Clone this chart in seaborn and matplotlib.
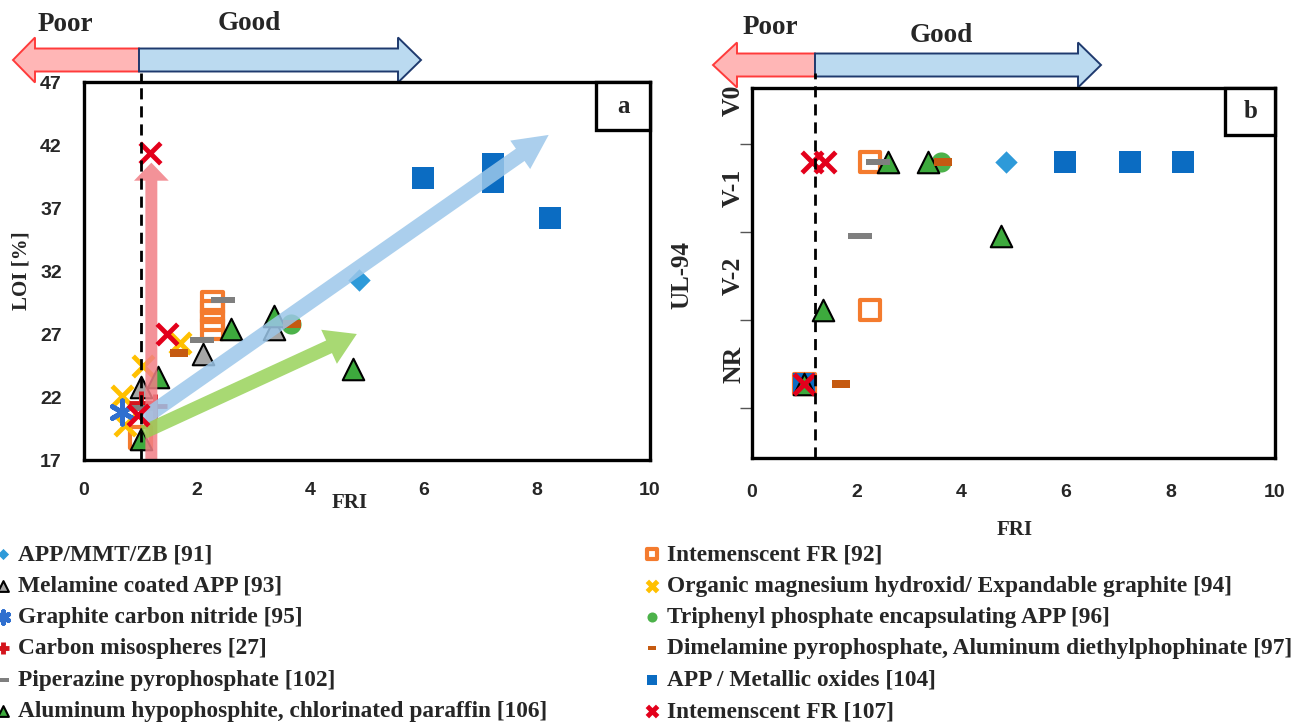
import matplotlib
matplotlib.use("Agg")
import matplotlib.pyplot as plt
from matplotlib.patches import Polygon, Rectangle
import numpy as np
import pandas as pd
import seaborn as sns

sns.set_theme(style="white")
SERIF = ["Liberation Serif", "DejaVu Serif"]
NARROW = ["Liberation Sans Narrow", "Liberation Sans", "DejaVu Sans"]
plt.rcParams["font.family"] = SERIF
plt.rcParams["font.weight"] = "bold"

# ---------------- data: panel (a) FRI vs LOI ----------------
app_mmt_fri = [4.86]
app_mmt_loi = [31.3]
ifr92_fri = [2.27, 2.27, 2.27, 2.27, 1.0]
ifr92_loi = [29.5, 28.8, 28.1, 27.4, 18.8]
melamine_fri = [1.0, 2.11, 3.35]
melamine_loi = [22.8, 25.4, 27.4]
mgoh_eg_fri = [1.05, 1.70, 0.68, 0.72]
mgoh_eg_loi = [24.5, 26.3, 22.1, 19.8]
gcn_fri = [0.68]
gcn_loi = [20.8]
tpp_fri = [3.65]
tpp_loi = [27.8]
carbon_ms_fri = [1.0, 1.25]
carbon_ms_loi = [21.5, 21.3]
dmpp_fri = [1.68, 3.67]
dmpp_loi = [25.5, 27.8]
pip_fri = [2.46, 2.09, 1.0]
pip_loi = [29.7, 26.5, 21.1]
metal_ox_fri = [5.99, 7.23, 7.23, 8.24]
metal_ox_loi = [39.4, 40.5, 39.1, 36.2]
alhp_fri = [2.59, 3.35, 4.75, 1.31, 1.0]
alhp_loi = [27.4, 28.4, 24.2, 23.6, 18.7]
ifr107_fri = [1.17, 1.47, 0.96]
ifr107_loi = [41.4, 27.0, 20.6]

# ---------------- data: panel (b) FRI vs UL-94 ----------------
ul_rank = {"NR": 1, "V-2": 2, "V-1": 3, "V0": 4}
app_mmt_b_fri = [4.86]
app_mmt_b_ul = ["V0"]
ifr92_b_fri = [2.26, 2.26, 1.0]
ifr92_b_ul = ["V0", "V-2", "NR"]
tpp_b_fri = [3.62]
tpp_b_ul = ["V0"]
dmpp_b_fri = [3.65, 1.70]
dmpp_b_ul = ["V0", "NR"]
pip_b_fri = [2.40, 2.07]
pip_b_ul = ["V0", "V-1"]
metal_ox_b_fri = [5.98, 7.23, 8.24, 1.0]
metal_ox_b_ul = ["V0", "V0", "V0", "NR"]
alhp_b_fri = [2.60, 3.36, 4.76, 1.35, 1.0]
alhp_b_ul = ["V0", "V0", "V-1", "V-2", "NR"]
ifr107_b_fri = [1.15, 1.40, 1.0]
ifr107_b_ul = ["V0", "V0", "NR"]

ul_tick_pos = [0.68, 1.86, 3.05, 4.24]
ul_label_pos = [1.27, 2.46, 3.65, 4.84]
ul_labels = ["NR", "V-2", "V-1", "V0"]

# marker shapes
dash_long = [(-1, -0.28), (1, -0.28), (1, 0.28), (-1, 0.28)]
dash_short = [(-1, -0.42), (1, -0.42), (1, 0.42), (-1, 0.42)]

styles = {
    "APP/MMT/ZB [91]": dict(marker="D", s=130, color="#2E9AD9", linewidth=0),
    "Intemenscent FR [92]": dict(marker="s", s=220, facecolor="none", edgecolor="#F47B2E", linewidth=3),
    "Melamine coated APP [93]": dict(marker="^", s=240, color="#A6A6A6", edgecolor="black", linewidth=1.5),
    "Organic magnesium hydroxid/ Expandable graphite [94]": dict(marker="x", s=220, color="#FFC000", linewidth=3.5),
    "Graphite carbon nitride [95]": dict(marker=(6, 2, 0), s=280, color="#2F6FCF", linewidth=3.5),
    "Triphenyl phosphate encapsulating APP [96]": dict(marker="o", s=210, color="#4CB24A", linewidth=0),
    "Carbon misospheres [27]": dict(marker="+", s=300, color="#D4141C", linewidth=3.5),
    "Dimelamine pyrophosphate, Aluminum diethylphophinate [97]": dict(marker=dash_short, s=150, color="#C55A11", linewidth=0),
    "Piperazine pyrophosphate [102]": dict(marker=dash_long, s=310, color="#7F7F7F", linewidth=0),
    "APP / Metallic oxides [104]": dict(marker="s", s=250, color="#0B6CC2", linewidth=0),
    "Aluminum hypophosphite, chlorinated paraffin [106]": dict(marker="^", s=240, color="#3DAA3D", edgecolor="black", linewidth=1.5),
    "Intemenscent FR [107]": dict(marker="x", s=220, color="#E3001B", linewidth=3.5),
}

panel_a = {
    "Intemenscent FR [92]": (ifr92_fri, ifr92_loi),
    "APP / Metallic oxides [104]": (metal_ox_fri, metal_ox_loi),
    "APP/MMT/ZB [91]": (app_mmt_fri, app_mmt_loi),
    "Melamine coated APP [93]": (melamine_fri, melamine_loi),
    "Organic magnesium hydroxid/ Expandable graphite [94]": (mgoh_eg_fri, mgoh_eg_loi),
    "Graphite carbon nitride [95]": (gcn_fri, gcn_loi),
    "Triphenyl phosphate encapsulating APP [96]": (tpp_fri, tpp_loi),
    "Aluminum hypophosphite, chlorinated paraffin [106]": (alhp_fri, alhp_loi),
    "Carbon misospheres [27]": (carbon_ms_fri, carbon_ms_loi),
    "Dimelamine pyrophosphate, Aluminum diethylphophinate [97]": (dmpp_fri, dmpp_loi),
    "Piperazine pyrophosphate [102]": (pip_fri, pip_loi),
    "Intemenscent FR [107]": (ifr107_fri, ifr107_loi),
}

panel_b = {
    "Intemenscent FR [92]": (ifr92_b_fri, ifr92_b_ul),
    "APP / Metallic oxides [104]": (metal_ox_b_fri, metal_ox_b_ul),
    "APP/MMT/ZB [91]": (app_mmt_b_fri, app_mmt_b_ul),
    "Triphenyl phosphate encapsulating APP [96]": (tpp_b_fri, tpp_b_ul),
    "Aluminum hypophosphite, chlorinated paraffin [106]": (alhp_b_fri, alhp_b_ul),
    "Dimelamine pyrophosphate, Aluminum diethylphophinate [97]": (dmpp_b_fri, dmpp_b_ul),
    "Piperazine pyrophosphate [102]": (pip_b_fri, pip_b_ul),
    "Intemenscent FR [107]": (ifr107_b_fri, ifr107_b_ul),
}

legend_left = [
    "APP/MMT/ZB [91]", "Melamine coated APP [93]", "Graphite carbon nitride [95]",
    "Carbon misospheres [27]", "Piperazine pyrophosphate [102]",
    "Aluminum hypophosphite, chlorinated paraffin [106]",
]
legend_right = [
    "Intemenscent FR [92]", "Organic magnesium hydroxid/ Expandable graphite [94]",
    "Triphenyl phosphate encapsulating APP [96]",
    "Dimelamine pyrophosphate, Aluminum diethylphophinate [97]",
    "APP / Metallic oxides [104]", "Intemenscent FR [107]",
]

W, H = 1315, 725
fig = plt.figure(figsize=(W / 100, H / 100), dpi=100)
fig.patch.set_facecolor("white")


def px_axes(x0, y0, x1, y1, **kw):
    return fig.add_axes([x0 / W, 1 - y1 / H, (x1 - x0) / W, (y1 - y0) / H], **kw)


ax_a = px_axes(84, 82, 650, 460, zorder=2)
ax_b = px_axes(752, 88, 1275, 458, zorder=2)

# ---------------- panel (a) ----------------
def trend_arrow(ax, tail, tip, color, alpha, tw, hw, hl):
    ax.annotate("", xy=tip, xytext=tail, xycoords="data",
                arrowprops=dict(arrowstyle=f"simple,head_length={hl},head_width={hw},tail_width={tw}",
                                mutation_scale=1, color=color, alpha=alpha, lw=0,
                                shrinkA=0, shrinkB=0), zorder=2.5)

for name, (fx, fy) in panel_a.items():
    df = pd.DataFrame({"FRI": fx, "LOI": fy})
    st = dict(styles[name])
    z = 3 if name == "Intemenscent FR [107]" else 2
    sns.scatterplot(data=df, x="FRI", y="LOI", ax=ax_a, label=name, legend=False, zorder=z, **st)

trend_arrow(ax_a, (1.19, 17.0), (1.19, 40.6), "#F17F86", 0.85, 8.6, 25, 13)
trend_arrow(ax_a, (1.05, 20.3), (8.21, 42.8), "#9CC7EA", 0.85, 10.8, 25, 25)
trend_arrow(ax_a, (1.05, 19.2), (4.82, 27.0), "#92D050", 0.8, 10, 27, 22)

ax_a.axvline(1.0, ymin=0, ymax=1.025, color="black", lw=2, ls=(0, (4, 2.5)), clip_on=False, zorder=4)
ax_a.set_xlim(0, 10)
ax_a.set_ylim(17, 47)
ax_a.set_xticks(np.arange(0, 11, 2))
ax_a.set_yticks(np.arange(17, 48, 5))
ax_a.tick_params(axis="both", length=0, labelsize=14)
ax_a.tick_params(axis="x", pad=16)
ax_a.tick_params(axis="y", pad=16)
for lab in ax_a.get_xticklabels() + ax_a.get_yticklabels():
    lab.set_family(NARROW)
    lab.set_fontweight("bold")
ax_a.set_xlabel("FRI", fontsize=15, fontweight="bold")
ax_a.set_ylabel("LOI [%]", fontsize=15, fontweight="bold")
ax_a.xaxis.set_label_coords(0.47, -0.087)
ax_a.yaxis.set_label_coords(-0.092, 0.50)

# ---------------- panel (b) ----------------
for name, (fx, ul) in panel_b.items():
    df = pd.DataFrame({"FRI": fx, "UL": [ul_rank[u] for u in ul]})
    st = dict(styles[name])
    sns.scatterplot(data=df, x="FRI", y="UL", ax=ax_b, legend=False, **st)

ax_b.axvline(1.2, ymin=0, ymax=1.04, color="black", lw=2, ls=(0, (4, 2.5)), clip_on=False, zorder=4)
ax_b.set_xlim(0, 10)
ax_b.set_ylim(0, 5)
ax_b.set_xticks(np.arange(0, 11, 2))
ax_b.set_yticks(ul_tick_pos)
ax_b.set_yticklabels([])
ax_b.set_yticks(ul_label_pos, minor=True)
ax_b.set_yticklabels(ul_labels, minor=True, rotation=90, va="center", fontsize=18.5, fontweight="bold")
ax_b.tick_params(axis="y", which="major", length=9, width=1, color="#555555", direction="out", left=True)
ax_b.tick_params(axis="y", which="minor", length=0, pad=5, left=False)
ax_b.tick_params(axis="x", length=0, labelsize=14, pad=19)
for lab in ax_b.get_xticklabels():
    lab.set_family(NARROW)
    lab.set_fontweight("bold")
ax_b.set_xlabel("FRI", fontsize=15, fontweight="bold")
ax_b.set_ylabel("UL-94", fontsize=18, fontweight="bold")
ax_b.xaxis.set_label_coords(0.503, -0.168)
ax_b.yaxis.set_label_coords(-0.113, 0.495)

for ax, letter in ((ax_a, "a"), (ax_b, "b")):
    for sp in ax.spines.values():
        sp.set_visible(True)
        sp.set_color("black")
        sp.set_linewidth(2.4)
    ax.add_patch(Rectangle((0.905, 0.872), 0.095, 0.128, transform=ax.transAxes,
                           facecolor="white", edgecolor="black", lw=2.4, zorder=5, clip_on=False))
    ax.text(0.9525, 0.936, letter, transform=ax.transAxes, ha="center", va="center",
            fontsize=18, fontweight="bold", zorder=6)

# ---------------- Poor / Good arrows above the panels ----------------
over = fig.add_axes([0, 0, 1, 1], zorder=1)
over.set_xlim(0, W)
over.set_ylim(H, 0)
over.axis("off")
over.patch.set_alpha(0)


def block_arrow(x_start, x_neck, x_tip, yc, body_h, head_h, face, edge):
    b, h = body_h / 2, head_h / 2
    pts = [(x_start, yc - b), (x_neck, yc - b), (x_neck, yc - h), (x_tip, yc),
           (x_neck, yc + h), (x_neck, yc + b), (x_start, yc + b)]
    over.add_patch(Polygon(pts, closed=True, facecolor=face, edgecolor=edge, lw=1.4))


def poor_good(x_mid, x_poor_neck, x_poor_tip, x_good_neck, x_good_tip, yc, poor_xy, good_xy):
    block_arrow(x_mid, x_poor_neck, x_poor_tip, yc, 23, 45, "#FFB6B6", "#FF3B3B")
    block_arrow(x_mid, x_good_neck, x_good_tip, yc, 23, 45, "#BBDAF0", "#1F3A6E")
    over.text(*poor_xy, "Poor", ha="center", va="center", fontsize=19.5, fontweight="bold")
    over.text(*good_xy, "Good", ha="center", va="center", fontsize=19.5, fontweight="bold")


poor_good(139, 35, 13, 398, 421, 60, (65, 24), (249, 23))
poor_good(815, 737, 713, 1078, 1101, 65, (770, 27), (941, 35))

# ---------------- legend ----------------
handles, labels = ax_a.get_legend_handles_labels()
hmap = dict(zip(labels, handles))
for names, x0 in ((legend_left, -5), (legend_right, 644)):
    fig.legend([hmap[n] for n in names], names, loc="upper left",
               bbox_to_anchor=(x0 / W, 1 - 544 / H), frameon=False,
               prop=dict(family=SERIF, weight="bold", size=16.8),
               markerscale=0.5, handlelength=0.7, handletextpad=0.3,
               labelspacing=0.43, borderpad=0, borderaxespad=0)

fig.savefig("out.png", dpi=100, facecolor="white")
